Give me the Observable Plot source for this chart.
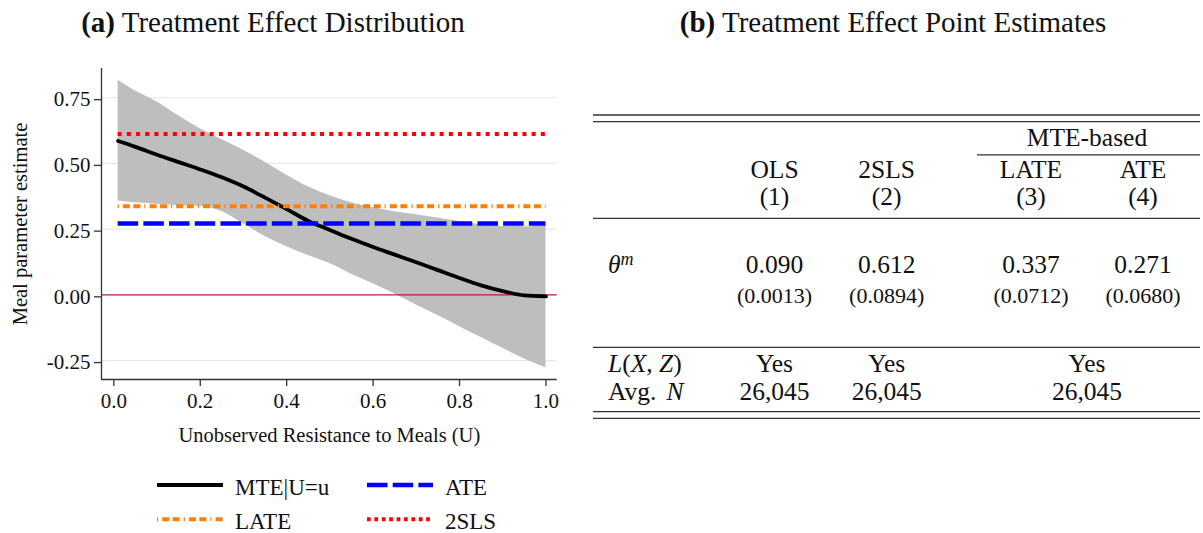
<!DOCTYPE html>
<html>
<head>
<meta charset="utf-8">
<script src="https://cdn.jsdelivr.net/npm/d3@7"></script>
<script src="https://cdn.jsdelivr.net/npm/@observablehq/plot@0.6"></script>
<style>
  html, body { margin: 0; padding: 0; background: #fff; }
  #page { position: relative; width: 1203px; height: 533px; overflow: hidden;
          font-family: "Liberation Serif", "Times New Roman", serif; }
  #chart { position: absolute; left: 0; top: 0; }
  #overlay { position: absolute; left: 0; top: 0; pointer-events: none; }
  #page svg text { font-family: "Liberation Serif", "Times New Roman", serif; }
</style>
</head>
<body>
<div id="page">
  <div id="chart"></div>
  <svg id="overlay" width="1203" height="533"></svg>
</div>
<script>
// Marginal treatment effect curve and its confidence band over U
const u = [0.01, 0.05, 0.10, 0.15, 0.20, 0.25, 0.30, 0.35, 0.40, 0.45, 0.50,
           0.55, 0.60, 0.65, 0.70, 0.75, 0.80, 0.85, 0.90, 0.95, 1.00];
const mte = [0.585, 0.563, 0.533, 0.505, 0.477, 0.447, 0.412, 0.370, 0.326, 0.281, 0.247,
             0.213, 0.182, 0.153, 0.124, 0.094, 0.064, 0.036, 0.014, -0.002, -0.006];
const ciUpper = [0.816, 0.775, 0.734, 0.681, 0.632, 0.591, 0.550, 0.504, 0.455, 0.411, 0.377,
                 0.350, 0.331, 0.316, 0.305, 0.292, 0.279, 0.267, 0.260, 0.259, 0.264];
const ciLower = [0.357, 0.350, 0.345, 0.340, 0.337, 0.317, 0.270, 0.222, 0.183, 0.150, 0.119,
                 0.078, 0.042, 0.003, -0.039, -0.079, -0.121, -0.162, -0.203, -0.244, -0.277];

// Axis ticks
const xTicks = [0, 0.2, 0.4, 0.6, 0.8, 1.0];
const yTicks = [-0.25, 0, 0.25, 0.5, 0.75];
const yGrid = [-0.25, 0.25, 0.5, 0.75];

// Point estimates table
const methods = ["OLS", "2SLS", "LATE", "ATE"];
const columnNumbers = ["(1)", "(2)", "(3)", "(4)"];
const estimates = [0.090, 0.612, 0.337, 0.271];
const stdErrors = [0.0013, 0.0894, 0.0712, 0.0680];
const controls = ["Yes", "Yes", "Yes"];
const avgN = ["26,045", "26,045", "26,045"];
const groupHeader = "MTE-based";

// Legend entries
const legendLabels = ["MTE|U=u", "ATE", "LATE", "2SLS"];

const serif = '"Liberation Serif", "Times New Roman", serif';

const curve = u.map((v, i) => ({u: v, mte: mte[i], lo: ciLower[i], hi: ciUpper[i]}));
const estimateOf = name => estimates[methods.indexOf(name)];
const refLine = name => [{method: name, value: estimateOf(name)}];

const lineStyles = {
  "MTE|U=u": {stroke: "#000000", strokeWidth: 3.8, strokeDasharray: null},
  "ATE":     {stroke: "#0000ff", strokeWidth: 4.5, strokeDasharray: "20.5,5.2"},
  "LATE":    {stroke: "#ff8000", strokeWidth: 4,   strokeDasharray: "1.2,4,7,3.5,7,4"},
  "2SLS":    {stroke: "#ff0000", strokeWidth: 4,   strokeDasharray: "4,5.2"}
};

const xDomain = [-0.0285, 1.026];
const yDomain = [-0.322, 0.861];
const uFirst = () => u[0];
const uLast = () => u[u.length - 1];

const chart = Plot.plot({
  width: 600,
  height: 460,
  marginLeft: 101,
  marginRight: 43.3,
  marginTop: 68,
  marginBottom: 81,
  style: {fontFamily: serif, fontSize: "21px", color: "#111", background: "transparent"},
  x: {domain: xDomain},
  y: {domain: yDomain},
  marks: [
    Plot.ruleY(yGrid, {stroke: "#e2eaee", strokeWidth: 1.3}),
    Plot.areaY(curve, {x: "u", y1: "lo", y2: "hi", fill: "#bebebe", curve: "monotone-x"}),
    Plot.ruleY([0], {stroke: "#c8143c", strokeWidth: 1.3}),
    Plot.line(curve, {x: "u", y: "mte", ...lineStyles["MTE|U=u"], curve: "monotone-x",
      strokeLinejoin: "round"}),
    ...["ATE", "LATE", "2SLS"].map(name =>
      Plot.ruleY(refLine(name), {y: "value", x1: uFirst, x2: uLast, ...lineStyles[name]})
    ),
    Plot.ruleX([xDomain[0]], {stroke: "#333", strokeWidth: 1.3}),
    Plot.ruleY([yDomain[0]], {stroke: "#333", strokeWidth: 1.3}),
    Plot.axisY(yTicks, {tickSize: 7, tickPadding: 4, tickFormat: d => d.toFixed(2),
      stroke: "#333", strokeWidth: 1.3, dy: 2, label: null, fill: "#111",
      fontFamily: serif, fontSize: 21}),
    Plot.axisX(xTicks, {tickSize: 7, tickPadding: 7, tickFormat: d => d.toFixed(1),
      stroke: "#333", strokeWidth: 1.3, label: null, fill: "#111",
      fontFamily: serif, fontSize: 21}),
    Plot.text(["Unobserved Resistance to Meals (U)"], {frameAnchor: "bottom", dy: 56,
      textAnchor: "middle", lineAnchor: "middle", fontSize: 20.5, fontFamily: serif, fill: "#111"}),
    Plot.text(["Meal parameter estimate"], {frameAnchor: "left", dx: -80.6, rotate: -90,
      textAnchor: "middle", lineAnchor: "middle", fontSize: 20.5, fontFamily: serif, fill: "#111"})
  ]
});
document.getElementById("chart").appendChild(chart);

const svg = d3.select("#overlay").attr("font-family", serif);

// Panel titles
function panelTitle(x, tag, text) {
  const t = svg.append("text").attr("x", x).attr("y", 32)
    .attr("text-anchor", "middle").attr("font-size", 29).attr("fill", "#111");
  t.append("tspan").attr("font-weight", "bold").text(tag);
  t.append("tspan").text(" " + text);
}
panelTitle(273, "(a)", "Treatment Effect Distribution");
panelTitle(893, "(b)", "Treatment Effect Point Estimates");

// Legend (two columns, filled row-wise)
const legendCols = [157, 367];
const legendRows = [485, 519.3];
legendLabels.forEach((label, i) => {
  const x = legendCols[i % 2], y = legendRows[Math.floor(i / 2)];
  const s = lineStyles[label];
  svg.append("line").attr("x1", x).attr("x2", x + 66).attr("y1", y).attr("y2", y)
    .attr("stroke", s.stroke).attr("stroke-width", s.strokeWidth)
    .attr("stroke-dasharray", label === "2SLS" ? "3.7,3.7" : s.strokeDasharray);
  svg.append("text").attr("x", x + 78).attr("y", y + 9.5)
    .attr("font-size", 23).attr("fill", "#111").text(label);
});

// Table of point estimates
const colX = [774.5, 886.7, 1031, 1143];
const groupX = (colX[2] + colX[3]) / 2;
const tableLeft = 593, tableRight = 1200, labelX = 608;
const bodySize = 25.5, seSize = 22;

function rule(y, x1 = tableLeft, x2 = tableRight) {
  svg.append("line").attr("x1", x1).attr("x2", x2).attr("y1", y).attr("y2", y)
    .attr("stroke", "#333").attr("stroke-width", 1.3);
}
function cell(x, y, text, size = bodySize, anchor = "middle") {
  return svg.append("text").attr("x", x).attr("y", y).attr("text-anchor", anchor)
    .attr("font-size", size).attr("fill", "#111").text(text);
}

rule(115); rule(121.7);
cell(groupX, 145.5, groupHeader);
rule(154.8, 977, tableRight);
methods.forEach((m, i) => cell(colX[i], 178.3, m));
columnNumbers.forEach((c, i) => cell(colX[i], 205, c));
rule(218.3);

// θ^m row
const theta = svg.append("text").attr("x", labelX).attr("y", 273.3)
  .attr("font-size", bodySize).attr("fill", "#111");
theta.append("tspan").attr("font-style", "italic").text("θ");
theta.append("tspan").attr("font-style", "italic").attr("font-size", 18).attr("dy", -8).text("m");
estimates.forEach((v, i) => cell(colX[i], 273.3, v.toFixed(3)));
stdErrors.forEach((v, i) => cell(colX[i], 303.3, "(" + v.toFixed(4) + ")", seSize));
rule(347.3);

// Controls and sample size rows
const lx = svg.append("text").attr("x", labelX).attr("y", 371.7)
  .attr("font-size", bodySize).attr("fill", "#111");
[["L", true], ["(", false], ["X", true], [", ", false], ["Z", true], [")", false]]
  .forEach(([s, it]) => lx.append("tspan").attr("font-style", it ? "italic" : "normal").text(s));
const an = svg.append("text").attr("x", labelX).attr("y", 400)
  .attr("font-size", bodySize).attr("fill", "#111").attr("xml:space", "preserve");
an.append("tspan").text("Avg.");
an.append("tspan").attr("dx", 10).attr("font-style", "italic").text("N");

const rowX = [colX[0], colX[1], groupX];
controls.forEach((c, i) => cell(rowX[i], 371.7, c));
avgN.forEach((c, i) => cell(rowX[i], 400, c));
rule(411.7); rule(418.3);
</script>
</body>
</html>
